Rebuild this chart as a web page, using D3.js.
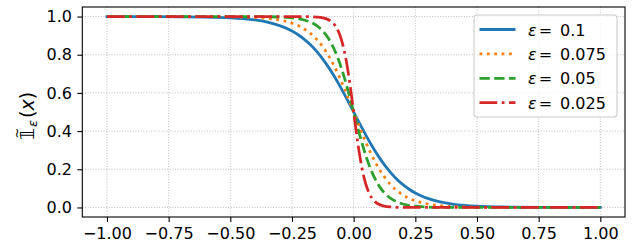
<!DOCTYPE html>
<html>
<head>
<meta charset="utf-8">
<script src="https://cdn.jsdelivr.net/npm/d3@7"></script>
<style>
  body { margin: 0; background: white; }
  text { font-family: "DejaVu Sans", sans-serif; fill: #000; }
</style>
</head>
<body>
<div id="viz-container"></div>
<script>
// x sample positions (dense near zero so the steep curves stay smooth)
let xs = [-1, -0.8, -0.6, -0.5, -0.45, -0.4, -0.35, -0.3, -0.275, -0.25, -0.225, -0.2, -0.175, -0.15, -0.125,
          -0.1, -0.0875, -0.075, -0.0625, -0.05, -0.0375, -0.025, -0.0125, 0,
          0.0125, 0.025, 0.0375, 0.05, 0.0625, 0.075, 0.0875, 0.1,
          0.125, 0.15, 0.175, 0.2, 0.225, 0.25, 0.275, 0.3, 0.35, 0.4, 0.45, 0.5, 0.6, 0.8, 1];

// values, one array per epsilon
let eps100 = [1.0, 0.9997, 0.9975, 0.9933, 0.989, 0.982, 0.9707, 0.9526, 0.9399, 0.9241, 0.9047, 0.8808, 0.852, 0.8176, 0.7773,
              0.7311, 0.7058, 0.6792, 0.6513, 0.6225, 0.5927, 0.5622, 0.5312, 0.5,
              0.4688, 0.4378, 0.4073, 0.3775, 0.3487, 0.3208, 0.2942, 0.2689,
              0.2227, 0.1824, 0.148, 0.1192, 0.0953, 0.0759, 0.0601, 0.0474, 0.0293, 0.018, 0.011, 0.0067, 0.0025, 0.0003, 0.0];
let eps075 = [1.0, 1.0, 0.9997, 0.9987, 0.9975, 0.9952, 0.9907, 0.982, 0.9751, 0.9656, 0.9526, 0.935, 0.9116, 0.8808, 0.8411,
              0.7914, 0.7625, 0.7311, 0.6971, 0.6608, 0.6225, 0.5826, 0.5416, 0.5,
              0.4584, 0.4174, 0.3775, 0.3392, 0.3029, 0.2689, 0.2375, 0.2086,
              0.1589, 0.1192, 0.0884, 0.065, 0.0474, 0.0344, 0.0249, 0.018, 0.0093, 0.0048, 0.0025, 0.0013, 0.0003, 0.0, 0.0];
let eps050 = [1.0, 1.0, 1.0, 1.0, 0.9999, 0.9997, 0.9991, 0.9975, 0.9959, 0.9933, 0.989, 0.982, 0.9707, 0.9526, 0.9241,
              0.8808, 0.852, 0.8176, 0.7773, 0.7311, 0.6792, 0.6225, 0.5622, 0.5,
              0.4378, 0.3775, 0.3208, 0.2689, 0.2227, 0.1824, 0.148, 0.1192,
              0.0759, 0.0474, 0.0293, 0.018, 0.011, 0.0067, 0.0041, 0.0025, 0.0009, 0.0003, 0.0001, 0.0, 0.0, 0.0, 0.0];
let eps025 = [1.0, 1.0, 1.0, 1.0, 1.0, 1.0, 1.0, 1.0, 1.0, 1.0, 0.9999, 0.9997, 0.9991, 0.9975, 0.9933,
              0.982, 0.9707, 0.9526, 0.9241, 0.8808, 0.8176, 0.7311, 0.6225, 0.5,
              0.3775, 0.2689, 0.1824, 0.1192, 0.0759, 0.0474, 0.0293, 0.018,
              0.0067, 0.0025, 0.0009, 0.0003, 0.0001, 0.0, 0.0, 0.0, 0.0, 0.0, 0.0, 0.0, 0.0, 0.0, 0.0];

let epsLabels = ["0.1", "0.075", "0.05", "0.025"];
let xTicks = [-1, -0.75, -0.5, -0.25, 0, 0.25, 0.5, 0.75, 1];
let yTicks = [0, 0.2, 0.4, 0.6, 0.8, 1.0];

let colors = ["#1f77b4", "#ff7f0e", "#2ca02c", "#d62728"];
let lw = 2.78;
let dashes = [null, [lw, 1.65 * lw], [3.7 * lw, 1.6 * lw], [6.4 * lw, 1.6 * lw, lw, 1.6 * lw]];

let series = [eps100, eps075, eps050, eps025].map(function(vals, i){
    return { label: epsLabels[i], pts: vals.map(function(v, j){ return [xs[j], v]; }) };
});

let W = 640, H = 252;
let plotL = 82.3, plotR = 625, plotT = 7, plotB = 217;

let viz = d3.select("#viz-container")
    .append("svg")
        .attr("width", W)
        .attr("height", H)
        .style("display", "block")
;

let x = d3.scaleLinear().domain([-1.1, 1.1]).range([plotL, plotR]);
let y = d3.scaleLinear().domain([-0.05, 1.05]).range([plotB, plotT]);

// grid
viz.append("g").selectAll("line").data(xTicks).enter().append("line")
    .attr("x1", d => x(d)).attr("x2", d => x(d))
    .attr("y1", plotT).attr("y2", plotB)
    .attr("stroke", "#b0b0b0").attr("stroke-width", 0.8).attr("stroke-dasharray", "1,1.65");
viz.append("g").selectAll("line").data(yTicks).enter().append("line")
    .attr("y1", d => y(d)).attr("y2", d => y(d))
    .attr("x1", plotL).attr("x2", plotR)
    .attr("stroke", "#b0b0b0").attr("stroke-width", 0.8).attr("stroke-dasharray", "1,1.65");

// curves
let line = d3.line().x(d => x(d[0])).y(d => y(d[1])).curve(d3.curveMonotoneX);
viz.append("g").selectAll("path").data(series).enter().append("path")
    .attr("d", d => line(d.pts))
    .attr("fill", "none")
    .attr("stroke", (d, i) => colors[i])
    .attr("stroke-width", lw)
    .attr("stroke-linecap", (d, i) => i == 0 ? "square" : "butt")
    .attr("stroke-dasharray", (d, i) => dashes[i] ? dashes[i].join(",") : null);

// axes
let xAxis = viz.append("g").attr("transform", "translate(0," + plotB + ")")
    .call(d3.axisBottom(x).tickValues(xTicks).tickFormat(d3.format(".2f")).tickSize(4.9).tickPadding(6));
let yAxis = viz.append("g").attr("transform", "translate(" + plotL + ",0)")
    .call(d3.axisLeft(y).tickValues(yTicks).tickFormat(d3.format(".1f")).tickSize(4.9).tickPadding(5.5));
[xAxis, yAxis].forEach(function(a){
    a.select(".domain").remove();
    a.selectAll("line").attr("stroke", "#000").attr("stroke-width", 1.1);
    a.selectAll("text").style("font-family", "DejaVu Sans").style("font-size", "16px").attr("fill", "#000");
});

// frame
viz.append("rect")
    .attr("x", plotL).attr("y", plotT)
    .attr("width", plotR - plotL).attr("height", plotB - plotT)
    .attr("fill", "none").attr("stroke", "#000").attr("stroke-width", 1.1);

// y label: tilde 1 sub epsilon (x)
let yl = viz.append("g").attr("transform", "translate(33.5,112) rotate(-90)");
yl.append("text").attr("x", -28).attr("y", 0).style("font-size", "19px").text("\u{1D7D9}");
yl.append("text").attr("x", -26.5).attr("y", -13).style("font-size", "13px").text("~");
yl.append("text").attr("x", -15).attr("y", 3).style("font-size", "13px").style("font-style", "italic").text("ε");
yl.append("text").attr("x", -6).attr("y", 0).style("font-size", "19px")
    .html('(<tspan font-style="italic">x</tspan>)');

// legend
let lg = viz.append("g").attr("transform", "translate(474,15)");
lg.append("rect")
    .attr("width", 143).attr("height", 102).attr("rx", 3)
    .attr("fill", "white").attr("fill-opacity", 0.8)
    .attr("stroke", "#cccccc").attr("stroke-width", 1.1);
let rows = lg.selectAll(".row").data(series).enter().append("g")
    .attr("class", "row")
    .attr("transform", (d, i) => "translate(0," + (14.5 + i * 24.4) + ")");
rows.append("line")
    .attr("x1", 5.5).attr("x2", 41.5)
    .attr("stroke", (d, i) => colors[i])
    .attr("stroke-width", lw)
    .attr("stroke-dasharray", (d, i) => dashes[i] ? dashes[i].join(",") : null);
rows.append("text")
    .attr("x", 54).attr("y", 6)
    .style("font-size", "16px")
    .html(d => '<tspan font-style="italic">ε</tspan><tspan dx="2">=</tspan><tspan dx="8">' + d.label + '</tspan>');
</script>
</body>
</html>
